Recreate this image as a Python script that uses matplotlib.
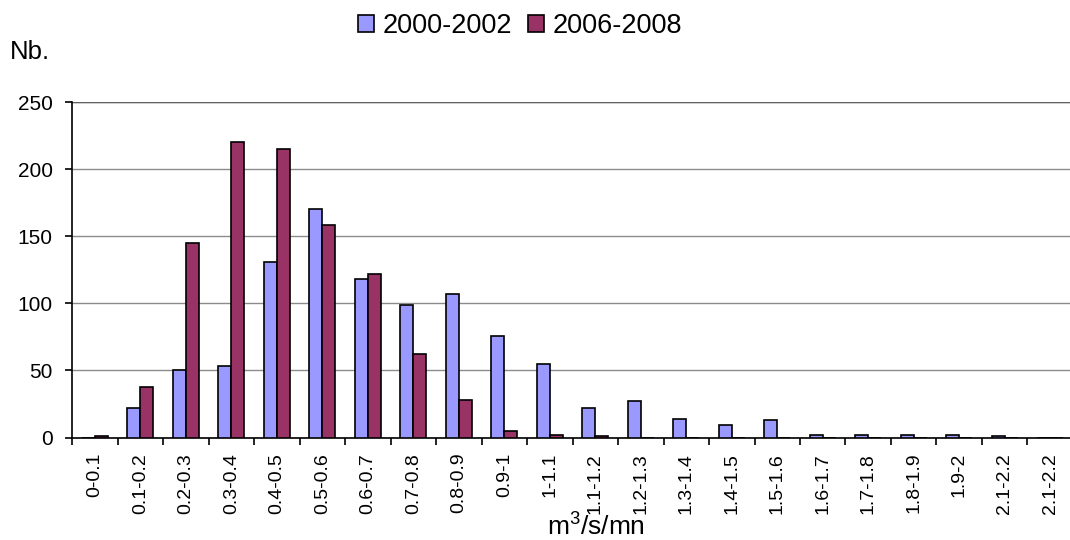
import numpy as np
import matplotlib
matplotlib.use("Agg")
import matplotlib.pyplot as plt

# Fonts: Arial-like look
plt.rcParams['font.family'] = ['Liberation Sans', 'DejaVu Sans']
plt.rcParams['mathtext.fontset'] = 'custom'
plt.rcParams['mathtext.rm'] = 'Liberation Sans'
plt.rcParams['mathtext.default'] = 'regular'

# Data
categories = ["0-0.1", "0.1-0.2", "0.2-0.3", "0.3-0.4", "0.4-0.5", "0.5-0.6",
              "0.6-0.7", "0.7-0.8", "0.8-0.9", "0.9-1", "1-1.1", "1.1-1.2",
              "1.2-1.3", "1.3-1.4", "1.4-1.5", "1.5-1.6", "1.6-1.7", "1.7-1.8",
              "1.8-1.9", "1.9-2", "2.1-2.2", "2.1-2.2"]
nb_2000_2002 = [0, 22, 50, 53, 131, 170, 118, 99, 107, 76, 55, 22,
                27, 14, 9, 13, 2, 2, 2, 2, 1, 0]
nb_2006_2008 = [1, 38, 145, 220, 215, 158, 122, 62, 28, 5, 2, 1,
                0, 0, 0, 0, 0, 0, 0, 0, 0, 0]
y_ticks = [0, 50, 100, 150, 200, 250]

fig = plt.figure(figsize=(10.7, 5.4), dpi=100)
ax = fig.add_axes([0.0673, 0.1898, 0.9355, 0.6213])

x = np.arange(len(categories))
w = 0.29
ax.bar(x - w / 2, nb_2000_2002, width=w, color="#9999FF", edgecolor="black",
       linewidth=1.2, label="2000-2002", zorder=3)
ax.bar(x + w / 2, nb_2006_2008, width=w, color="#993366", edgecolor="black",
       linewidth=1.2, label="2006-2008", zorder=3)

# Axes limits and grid
ax.set_xlim(-0.5, len(categories) - 0.5)
ax.set_ylim(0, 250)
ax.set_yticks(y_ticks)
ax.yaxis.grid(True, color="#8c8c8c", linewidth=1.0, zorder=0)
ax.set_axisbelow(True)

for s in ["top", "right"]:
    ax.spines[s].set_visible(False)
ax.spines["left"].set_linewidth(1.2)
ax.spines["bottom"].set_linewidth(1.2)
ax.axhline(250, color="#606060", linewidth=1.0, zorder=1)

# Ticks at category boundaries, labels in the middle
ax.set_xticks(np.arange(len(categories) + 1) - 0.5)
ax.set_xticklabels([])
ax.set_xticks(x, minor=True)
ax.set_xticklabels(categories, minor=True, rotation=90, fontsize=14, va="top")
ax.tick_params(axis="x", which="major", direction="out", length=5, width=1.2)
ax.tick_params(axis="x", which="minor", length=0, pad=11)
ax.tick_params(axis="y", direction="out", length=5, width=1.2, labelsize=15, pad=9)

# Legend on top
ax.legend(loc="center", bbox_to_anchor=(520 / 1070, 1 - 26 / 540),
          bbox_transform=fig.transFigure, ncol=2, frameon=False, fontsize=19.5,
          handlelength=0.6, handleheight=0.6, handletextpad=0.3,
          columnspacing=0.6)

# Axis titles
fig.text(10 / 1070, 1 - 59 / 540, "Nb.", fontsize=18.5, va="baseline", ha="left")
fig.text(596 / 1070, 1 - 536 / 540, r"m$^3$/s/mn", fontsize=19,
         va="baseline", ha="center")

fig.savefig("out.png", dpi=100)
